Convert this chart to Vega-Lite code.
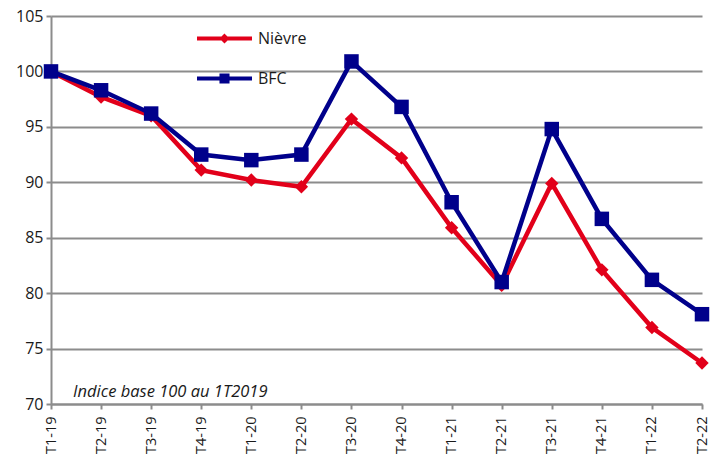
{
  "$schema": "https://vega.github.io/schema/vega-lite/v6.json",
  "width": 651,
  "height": 388,
  "autosize": "none",
  "padding": {"left": 51, "top": 16, "right": 8, "bottom": 53},
  "background": "white",
  "config": {
    "view": {"stroke": null},
    "font": "Open Sans",
    "axis": {"labelFont": "Open Sans", "labelColor": "#1a1a1a", "domainColor": "#8c8c8c", "tickColor": "#8c8c8c", "gridColor": "#8c8c8c", "domainWidth": 2, "tickWidth": 2, "gridWidth": 2, "gridOpacity": 1},
    "legend": {"labelFont": "Open Sans"}
  },
  "datasets": {
    "series": [
      {"periode": "T1-19", "serie": "Nièvre", "indice": 100.0},
      {"periode": "T2-19", "serie": "Nièvre", "indice": 97.7},
      {"periode": "T3-19", "serie": "Nièvre", "indice": 96.0},
      {"periode": "T4-19", "serie": "Nièvre", "indice": 91.1},
      {"periode": "T1-20", "serie": "Nièvre", "indice": 90.2},
      {"periode": "T2-20", "serie": "Nièvre", "indice": 89.6},
      {"periode": "T3-20", "serie": "Nièvre", "indice": 95.7},
      {"periode": "T4-20", "serie": "Nièvre", "indice": 92.2},
      {"periode": "T1-21", "serie": "Nièvre", "indice": 85.9},
      {"periode": "T2-21", "serie": "Nièvre", "indice": 80.7},
      {"periode": "T3-21", "serie": "Nièvre", "indice": 89.9},
      {"periode": "T4-21", "serie": "Nièvre", "indice": 82.1},
      {"periode": "T1-22", "serie": "Nièvre", "indice": 76.9},
      {"periode": "T2-22", "serie": "Nièvre", "indice": 73.7},
      {"periode": "T1-19", "serie": "BFC", "indice": 100.0},
      {"periode": "T2-19", "serie": "BFC", "indice": 98.3},
      {"periode": "T3-19", "serie": "BFC", "indice": 96.2},
      {"periode": "T4-19", "serie": "BFC", "indice": 92.5},
      {"periode": "T1-20", "serie": "BFC", "indice": 92.0},
      {"periode": "T2-20", "serie": "BFC", "indice": 92.5},
      {"periode": "T3-20", "serie": "BFC", "indice": 100.9},
      {"periode": "T4-20", "serie": "BFC", "indice": 96.8},
      {"periode": "T1-21", "serie": "BFC", "indice": 88.2},
      {"periode": "T2-21", "serie": "BFC", "indice": 81.0},
      {"periode": "T3-21", "serie": "BFC", "indice": 94.8},
      {"periode": "T4-21", "serie": "BFC", "indice": 86.7},
      {"periode": "T1-22", "serie": "BFC", "indice": 81.2},
      {"periode": "T2-22", "serie": "BFC", "indice": 78.1}
    ],
    "note": [{"periode": "T1-19", "indice": 70, "texte": "Indice base 100 au 1T2019"}]
  },
  "encoding": {
    "x": {
      "field": "periode", "type": "ordinal", "sort": null,
      "scale": {"type": "point", "padding": 0},
      "axis": {"title": null, "labelAngle": -90, "labelFontSize": 14.5, "tickSize": 5, "labelPadding": 7, "grid": false}
    },
    "y": {
      "field": "indice", "type": "quantitative",
      "scale": {"domain": [70, 105], "nice": false, "zero": false},
      "axis": {"title": null, "values": [70, 75, 80, 85, 90, 95, 100, 105], "labelFontSize": 16, "tickSize": 5, "labelPadding": 3, "grid": true}
    }
  },
  "layer": [
    {
      "data": {"name": "series"},
      "transform": [{"filter": "datum.serie === 'Nièvre'"}],
      "layer": [
        {
          "mark": {"type": "line", "strokeWidth": 4.5},
          "encoding": {
            "color": {
              "field": "serie", "type": "nominal",
              "scale": {"domain": ["Nièvre", "BFC"], "range": ["#E2001A", "#00008B"]},
              "legend": {
                "orient": "none", "legendX": 144, "legendY": -7, "title": null,
                "padding": 0, "symbolSize": 3025, "symbolStrokeWidth": 4,
                "rowPadding": -13, "labelFontSize": 16, "labelColor": "#1a1a1a", "labelOffset": 4,
                "symbolType": "M-1,0L1,0",
                "encode": {
                  "symbols": {
                    "update": {
                      "shape": {"signal": "datum.value === 'Nièvre' ? 'M-1,0L1,0M0,-0.08L0.08,0L0,0.08L-0.08,0Z' : 'M-1,0L1,0M-0.11,-0.11L0.11,-0.11L0.11,0.11L-0.11,0.11Z'"},
                      "fill": {"signal": "datum.value === 'Nièvre' ? '#E2001A' : '#00008B'"},
                      "stroke": {"signal": "datum.value === 'Nièvre' ? '#E2001A' : '#00008B'"},
                      "fillOpacity": {"value": 1}
                    }
                  }
                }
              }
            }
          }
        },
        {
          "mark": {"type": "point", "shape": "diamond", "filled": true, "size": 180, "opacity": 1},
          "encoding": {"color": {"field": "serie", "type": "nominal", "legend": null}}
        }
      ]
    },
    {
      "data": {"name": "series"},
      "transform": [{"filter": "datum.serie === 'BFC'"}],
      "layer": [
        {
          "mark": {"type": "line", "strokeWidth": 4.5},
          "encoding": {"color": {"field": "serie", "type": "nominal", "legend": null}}
        },
        {
          "mark": {"type": "point", "shape": "square", "filled": true, "size": 210, "opacity": 1},
          "encoding": {"color": {"field": "serie", "type": "nominal", "legend": null}}
        }
      ]
    },
    {
      "data": {"name": "note"},
      "mark": {"type": "text", "align": "left", "baseline": "alphabetic", "dx": 22, "dy": -7, "fontSize": 16.5, "fontStyle": "italic", "color": "#1a1a1a", "font": "Open Sans"},
      "encoding": {"text": {"field": "texte"}}
    }
  ]
}
